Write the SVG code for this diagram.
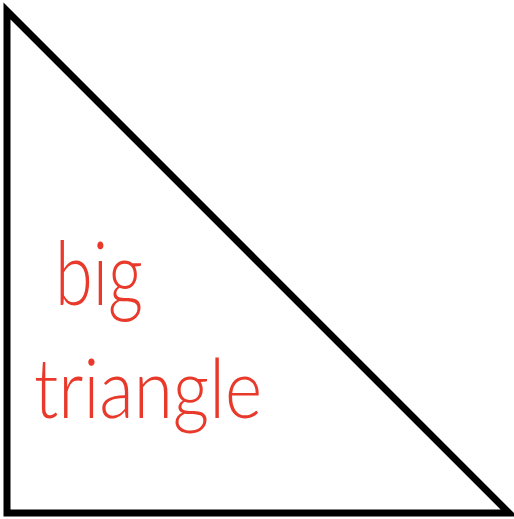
<svg xmlns="http://www.w3.org/2000/svg" width="514" height="519" viewBox="0 0 514 519">
<style>
.tri{fill:none;stroke:#000;stroke-width:7;stroke-linejoin:miter;stroke-miterlimit:10}
.lbl{fill:#e8392b;font-family:"Lato","Open Sans","Liberation Sans",sans-serif;font-weight:300}
</style>
<rect width="514" height="519" fill="#fff"/>
<g id="triangle">
<polygon class="tri" points="7,11 7,513 509,513"/>
</g>
<g id="label">
<text class="lbl" x="55" y="305" font-size="88" textLength="88" lengthAdjust="spacingAndGlyphs">big</text>
<text class="lbl" x="34" y="418" font-size="82" textLength="228" lengthAdjust="spacingAndGlyphs">triangle</text>
</g>
</svg>
